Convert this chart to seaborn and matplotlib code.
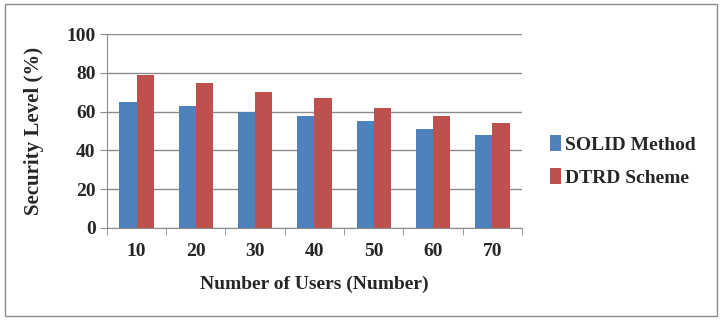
import pandas as pd
import seaborn as sns
import matplotlib.pyplot as plt
from matplotlib.patches import Rectangle

users = ["10", "20", "30", "40", "50", "60", "70"]
solid_method = [65, 63, 60, 58, 55, 51, 48]
dtrd_scheme = [79, 75, 70, 67, 62, 58, 54]
series_names = ["SOLID Method", "DTRD Scheme"]

df = pd.DataFrame({
    "Users": users * 2,
    "Level": solid_method + dtrd_scheme,
    "Series": [series_names[0]] * len(users) + [series_names[1]] * len(users),
})

sns.set_style("white")
plt.rcParams['font.family'] = ['Liberation Serif', 'DejaVu Serif']
plt.rcParams['font.weight'] = 'bold'

fig = plt.figure(figsize=(7.22, 3.22), dpi=100)
ax = fig.add_axes([0.148, 0.292, 0.575, 0.602])

sns.barplot(data=df, x="Users", y="Level", hue="Series", ax=ax,
            palette=["#4F81BD", "#C0504D"], width=0.58, saturation=1,
            edgecolor="none")

ax.set_ylim(0, 100)
ax.set_xlim(-0.5, len(users) - 0.5)
ax.set_yticks(range(0, 101, 20))
ax.yaxis.grid(True, color="#8c8c8c", linewidth=1)
ax.set_axisbelow(True)
for s in ["top", "right"]:
    ax.spines[s].set_visible(False)
for s in ["left", "bottom"]:
    ax.spines[s].set_color("#8c8c8c")

ax.set_xticks([i - 0.5 for i in range(len(users) + 1)], minor=True)
ax.tick_params(axis="x", which="minor", length=5, color="#8c8c8c", bottom=True)
ax.tick_params(axis="x", which="major", length=0, pad=11, labelsize=14)
ax.tick_params(axis="y", length=5, color="#8c8c8c", left=True, labelsize=14, pad=3)
for lab in ax.get_xticklabels() + ax.get_yticklabels():
    lab.set_fontweight("bold")

ax.set_xlabel("Number of Users (Number)", fontsize=14, fontweight="bold", labelpad=11)
ax.set_ylabel("Security Level (%)", fontsize=15, fontweight="bold", labelpad=16)

handles, labels = ax.get_legend_handles_labels()
ax.legend(handles, labels, loc="center left", bbox_to_anchor=(0.738, 0.5),
          bbox_transform=fig.transFigure, frameon=False,
          handlelength=0.55, handleheight=0.9, handletextpad=0.2,
          labelspacing=0.75, prop={"weight": "bold", "size": 14})

fig.patches.append(Rectangle((0.007, 0.018), 0.986, 0.97, transform=fig.transFigure,
                             fill=False, edgecolor="#8c8c8c", linewidth=1))

plt.savefig("out.png", dpi=100)
